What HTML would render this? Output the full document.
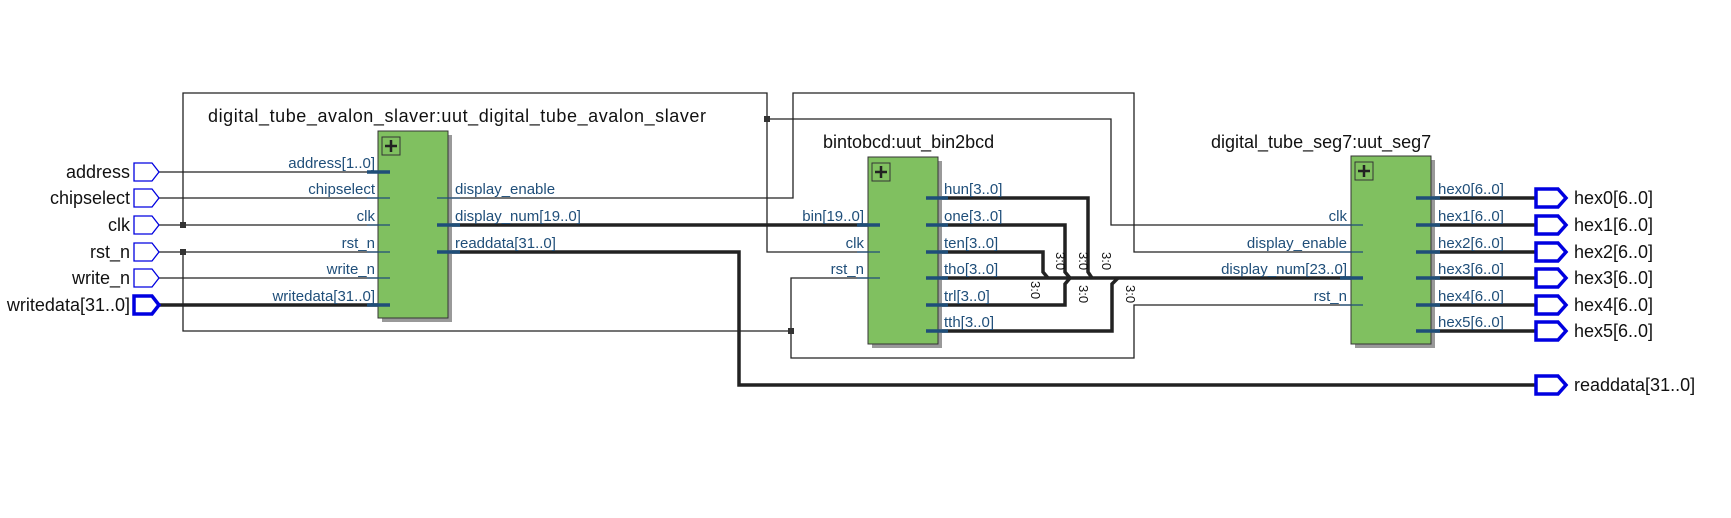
<!DOCTYPE html>
<html><head><meta charset="utf-8"><style>
html,body{margin:0;padding:0;background:#fff;}
svg{display:block;}
text{font-family:"Liberation Sans",sans-serif;}
.t{font-size:18px;fill:#111;}
.p{font-size:15px;fill:#1f4e79;}
.th{stroke:#222;stroke-width:1.3;fill:none;}
.bk{stroke:#222;stroke-width:3.5;fill:none;}
.st{stroke:#1f4e79;stroke-width:1.3;}
.sb{stroke:#1f4e79;stroke-width:3.5;}
.pin{fill:#fff;stroke:#0000e0;stroke-width:1.3;}
.pinb{fill:#fff;stroke:#0000e0;stroke-width:3.5;}
.lb{font-size:13px;fill:#111;}
</style></head><body>
<svg width="1731" height="518" viewBox="0 0 1731 518" xmlns="http://www.w3.org/2000/svg">
<g class="th">
<line x1="159" y1="172" x2="390" y2="172"/>
<line x1="159" y1="198" x2="390" y2="198"/>
<line x1="159" y1="225" x2="390" y2="225"/>
<line x1="159" y1="252" x2="390" y2="252"/>
<line x1="159" y1="278" x2="390" y2="278"/>
<polyline points="183,225 183,93 767,93 767,252 900,252"/>
<polyline points="767,119 1111,119 1111,225 1365,225"/>
<polyline points="183,252 183,331 791,331"/>
<polyline points="791,331 791,278 900,278"/>
<polyline points="791,331 791,358 1134,358 1134,305 1365,305"/>
<polyline points="448,198 793,198 793,93 1134,93 1134,252 1365,252"/>
</g>
<rect x="180" y="222" width="6" height="6" fill="#333"/>
<rect x="180" y="249" width="6" height="6" fill="#333"/>
<rect x="764" y="116" width="6" height="6" fill="#333"/>
<rect x="788" y="328" width="6" height="6" fill="#333"/>
<g class="bk">
<line x1="159" y1="305" x2="390" y2="305"/>
<line x1="448" y1="225" x2="900" y2="225"/>
<polyline points="448,252 739,252 739,385 1536,385"/>
<polyline points="938,198 1088,198 1088,272 1092,278"/>
<polyline points="938,225 1065,225 1065,272 1070,278 1065,284 1065,305 938,305"/>
<polyline points="938,252 1043,252 1043,272 1048,278"/>
<line x1="938" y1="278" x2="1365" y2="278"/>
<polyline points="938,331 1112,331 1112,284 1118,278"/>
<line x1="1431" y1="198" x2="1536" y2="198"/>
<line x1="1431" y1="225" x2="1536" y2="225"/>
<line x1="1431" y1="252" x2="1536" y2="252"/>
<line x1="1431" y1="278" x2="1536" y2="278"/>
<line x1="1431" y1="305" x2="1536" y2="305"/>
<line x1="1431" y1="331" x2="1536" y2="331"/>
</g>
<g class="lb">
<text transform="translate(1056,252) rotate(90)">3:0</text>
<text transform="translate(1079,252) rotate(90)">3:0</text>
<text transform="translate(1102,252) rotate(90)">3:0</text>
<text transform="translate(1031,281) rotate(90)">3:0</text>
<text transform="translate(1079,285) rotate(90)">3:0</text>
<text transform="translate(1126,285) rotate(90)">3:0</text>
</g>
<g>
<polygon class="pin" points="134,163 152,163 159,172 152,181 134,181"/>
<polygon class="pin" points="134,189 152,189 159,198 152,207 134,207"/>
<polygon class="pin" points="134,216 152,216 159,225 152,234 134,234"/>
<polygon class="pin" points="134,243 152,243 159,252 152,261 134,261"/>
<polygon class="pin" points="134,269 152,269 159,278 152,287 134,287"/>
<polygon class="pinb" points="134,296 152,296 159,305 152,314 134,314"/>
</g>
<g class="t" text-anchor="end">
<text x="130" y="178">address</text>
<text x="130" y="204">chipselect</text>
<text x="130" y="231">clk</text>
<text x="130" y="258">rst_n</text>
<text x="130" y="284">write_n</text>
<text x="130" y="311">writedata[31..0]</text>
</g>
<g>
<polygon class="pinb" points="1536,189 1558,189 1566,198 1558,207 1536,207"/>
<polygon class="pinb" points="1536,216 1558,216 1566,225 1558,234 1536,234"/>
<polygon class="pinb" points="1536,243 1558,243 1566,252 1558,261 1536,261"/>
<polygon class="pinb" points="1536,269 1558,269 1566,278 1558,287 1536,287"/>
<polygon class="pinb" points="1536,296 1558,296 1566,305 1558,314 1536,314"/>
<polygon class="pinb" points="1536,322 1558,322 1566,331 1558,340 1536,340"/>
<polygon class="pinb" points="1536,376 1558,376 1566,385 1558,394 1536,394"/>
</g>
<g class="t">
<text x="1574" y="204">hex0[6..0]</text>
<text x="1574" y="231">hex1[6..0]</text>
<text x="1574" y="258">hex2[6..0]</text>
<text x="1574" y="284">hex3[6..0]</text>
<text x="1574" y="311">hex4[6..0]</text>
<text x="1574" y="337">hex5[6..0]</text>
<text x="1574" y="391">readdata[31..0]</text>
</g>
<rect x="382" y="135" width="70" height="187" fill="#999"/>
<rect x="378" y="131" width="70" height="187" fill="#80c060" stroke="#333" stroke-width="1"/>
<rect x="382" y="137" width="18" height="18" fill="none" stroke="#333" stroke-width="1"/>
<path d="M391 140v12M385 146h12" stroke="#222" stroke-width="2.5"/>
<text class="t" x="208" y="122" textLength="498">digital_tube_avalon_slaver:uut_digital_tube_avalon_slaver</text>
<line class="sb" x1="367" y1="172" x2="390" y2="172"/>
<line class="st" x1="367" y1="198" x2="390" y2="198"/>
<line class="st" x1="367" y1="225" x2="390" y2="225"/>
<line class="st" x1="367" y1="252" x2="390" y2="252"/>
<line class="st" x1="367" y1="278" x2="390" y2="278"/>
<line class="sb" x1="367" y1="305" x2="390" y2="305"/>
<line class="st" x1="437" y1="198" x2="460" y2="198"/>
<line class="sb" x1="437" y1="225" x2="460" y2="225"/>
<line class="sb" x1="437" y1="252" x2="460" y2="252"/>
<g class="p" text-anchor="end">
<text x="375" y="168">address[1..0]</text>
<text x="375" y="194">chipselect</text>
<text x="375" y="221">clk</text>
<text x="375" y="248">rst_n</text>
<text x="375" y="274">write_n</text>
<text x="375" y="301">writedata[31..0]</text>
</g>
<g class="p">
<text x="455" y="194">display_enable</text>
<text x="455" y="221">display_num[19..0]</text>
<text x="455" y="248">readdata[31..0]</text>
</g>
<rect x="872" y="161" width="70" height="187" fill="#999"/>
<rect x="868" y="157" width="70" height="187" fill="#80c060" stroke="#333" stroke-width="1"/>
<rect x="872" y="163" width="18" height="18" fill="none" stroke="#333" stroke-width="1"/>
<path d="M881 166v12M875 172h12" stroke="#222" stroke-width="2.5"/>
<text class="t" x="823" y="148">bintobcd:uut_bin2bcd</text>
<line class="sb" x1="857" y1="225" x2="880" y2="225"/>
<line class="st" x1="857" y1="252" x2="880" y2="252"/>
<line class="st" x1="857" y1="278" x2="880" y2="278"/>
<g class="sb">
<line x1="926" y1="198" x2="948" y2="198"/>
<line x1="926" y1="225" x2="948" y2="225"/>
<line x1="926" y1="252" x2="948" y2="252"/>
<line x1="926" y1="278" x2="948" y2="278"/>
<line x1="926" y1="305" x2="948" y2="305"/>
<line x1="926" y1="331" x2="948" y2="331"/>
</g>
<g class="p" text-anchor="end">
<text x="864" y="221">bin[19..0]</text>
<text x="864" y="248">clk</text>
<text x="864" y="274">rst_n</text>
</g>
<g class="p">
<text x="944" y="194">hun[3..0]</text>
<text x="944" y="221">one[3..0]</text>
<text x="944" y="248">ten[3..0]</text>
<text x="944" y="274">tho[3..0]</text>
<text x="944" y="301">trl[3..0]</text>
<text x="944" y="327">tth[3..0]</text>
</g>
<rect x="1355" y="160" width="80" height="188" fill="#999"/>
<rect x="1351" y="156" width="80" height="188" fill="#80c060" stroke="#333" stroke-width="1"/>
<rect x="1355" y="162" width="18" height="18" fill="none" stroke="#333" stroke-width="1"/>
<path d="M1364 165v12M1358 171h12" stroke="#222" stroke-width="2.5"/>
<text class="t" x="1211" y="148">digital_tube_seg7:uut_seg7</text>
<line class="st" x1="1340" y1="225" x2="1363" y2="225"/>
<line class="st" x1="1340" y1="252" x2="1363" y2="252"/>
<line class="sb" x1="1340" y1="278" x2="1363" y2="278"/>
<line class="st" x1="1340" y1="305" x2="1363" y2="305"/>
<g class="sb">
<line x1="1416" y1="198" x2="1440" y2="198"/>
<line x1="1416" y1="225" x2="1440" y2="225"/>
<line x1="1416" y1="252" x2="1440" y2="252"/>
<line x1="1416" y1="278" x2="1440" y2="278"/>
<line x1="1416" y1="305" x2="1440" y2="305"/>
<line x1="1416" y1="331" x2="1440" y2="331"/>
</g>
<g class="p" text-anchor="end">
<text x="1347" y="221">clk</text>
<text x="1347" y="248">display_enable</text>
<text x="1347" y="274">display_num[23..0]</text>
<text x="1347" y="301">rst_n</text>
</g>
<g class="p">
<text x="1438" y="194">hex0[6..0]</text>
<text x="1438" y="221">hex1[6..0]</text>
<text x="1438" y="248">hex2[6..0]</text>
<text x="1438" y="274">hex3[6..0]</text>
<text x="1438" y="301">hex4[6..0]</text>
<text x="1438" y="327">hex5[6..0]</text>
</g>
</svg>
</body></html>
